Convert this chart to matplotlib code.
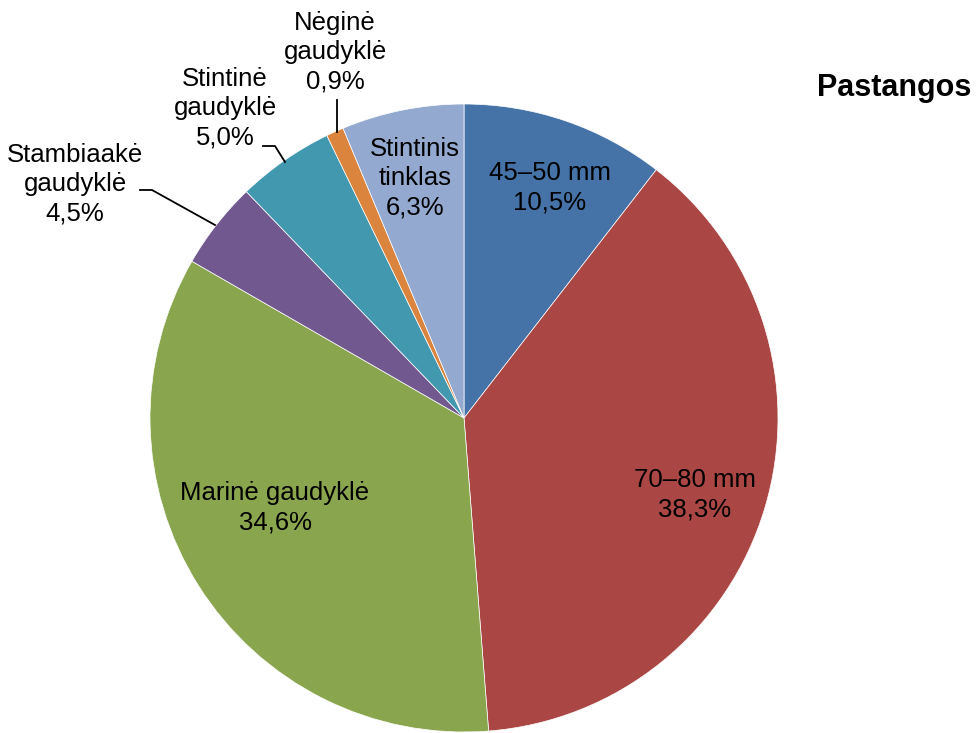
import matplotlib.pyplot as plt

plt.rcParams['font.family'] = ['Liberation Sans', 'DejaVu Sans']

# duomenys
kategorijos = ['45–50 mm', '70–80 mm', 'Marinė gaudyklė', 'Stambiaakė\ngaudyklė',
               'Stintinė\ngaudyklė', 'Nėginė\ngaudyklė', 'Stintinis\ntinklas']
dalys = [10.5, 38.3, 34.6, 4.5, 5.0, 0.9, 6.3]
spalvos = ['#4572A7', '#AA4643', '#89A54E', '#71588F', '#4198AF', '#DB843D', '#93A9CF']

# etikeciu vietos (pikseliai nuo virsaus)
vietos = [(550, 188), (695, 495), (275, 508), (75, 184), (225, 108), (335, 52), (415, 178)]

H = 733
fig = plt.figure(figsize=(9.8, 7.33), dpi=100)
ax = fig.add_axes([0, 0, 1, 1])

ax.pie(dalys, colors=spalvos, startangle=90, counterclock=False,
       center=(464, H - 418), radius=314,
       wedgeprops={'edgecolor': 'white', 'linewidth': 0.5})

ax.set_xlim(0, 980)
ax.set_ylim(0, H)
ax.set_aspect('equal')
ax.axis('off')

for kat, d, (x, y) in zip(kategorijos, dalys, vietos):
    tekstas = kat + '\n' + f'{d:.1f}'.replace('.', ',') + '%'
    ax.text(x, H - y, tekstas, ha='center', va='center', fontsize=18.5,
            linespacing=1.28)

# linijos iki mazu dalu
ax.plot([140, 152, 215], [H - 190, H - 190, H - 225], color='black', lw=1.3)
ax.plot([263, 275, 285], [H - 146, H - 146, H - 162], color='black', lw=1.3)
ax.plot([337, 337], [H - 100, H - 132], color='black', lw=1.3)

ax.text(894, H - 88, 'Pastangos', ha='center', va='center', fontsize=22,
        fontweight='bold')

fig.savefig('out.png', dpi=100)
